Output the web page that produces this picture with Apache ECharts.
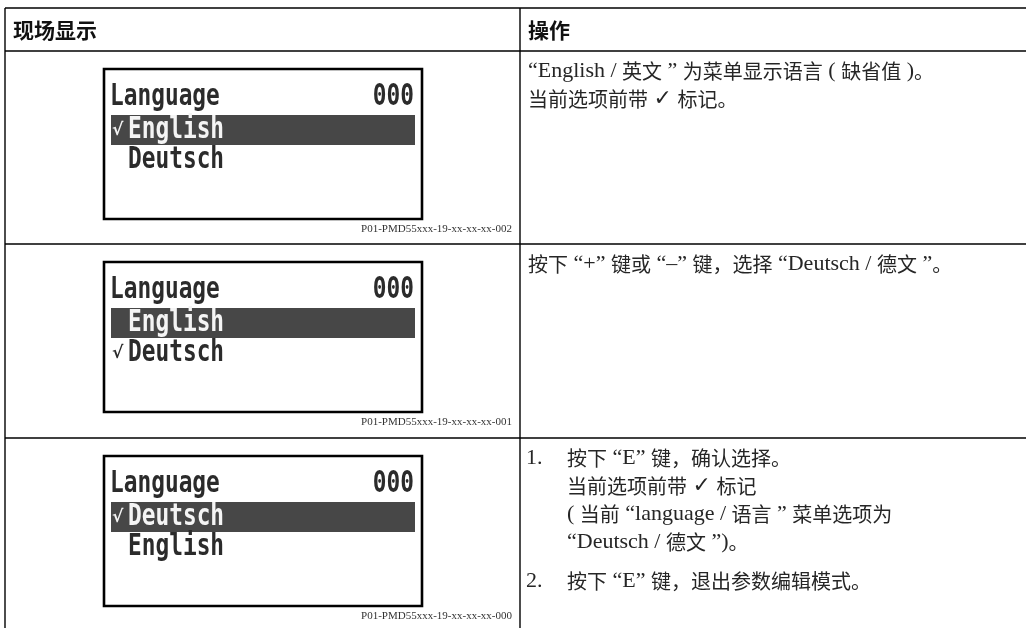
<!DOCTYPE html>
<html><head><meta charset="utf-8">
<script src="https://cdn.jsdelivr.net/npm/echarts@6/dist/echarts.min.js"></script>
<style>html,body{margin:0;background:#fff}#c{width:1026px;height:628px}</style></head>
<body><div id="c"></div>
<script>
// ---- content ----
const headers = ['现场显示', '操作'];
const lcdTitle = 'Language';
const lcdCode = '000';
const lcdRows = [
  [{label: 'English', check: true, selected: true}, {label: 'Deutsch', check: false, selected: false}],
  [{label: 'English', check: false, selected: true}, {label: 'Deutsch', check: true, selected: false}],
  [{label: 'Deutsch', check: true, selected: true}, {label: 'English', check: false, selected: false}]
];
const figureIds = ['P01-PMD55xxx-19-xx-xx-xx-002', 'P01-PMD55xxx-19-xx-xx-xx-001', 'P01-PMD55xxx-19-xx-xx-xx-000'];
const actionItems = [
  [{num: '', lines: ['“English / 英文 ” 为菜单显示语言 ( 缺省值 )。', '当前选项前带 ✓ 标记。']}],
  [{num: '', lines: ['按下 “+” 键或 “–” 键，选择 “Deutsch / 德文 ”。']}],
  [{num: '1.', lines: ['按下 “E” 键，确认选择。', '当前选项前带 ✓ 标记', '( 当前 “language / 语言 ” 菜单选项为', '“Deutsch / 德文 ”)。']},
   {num: '2.', lines: ['按下 “E” 键，退出参数编辑模式。']}]
];

// ---- layout ----
const W = 1026, H = 628;
const tableTop = 8, headerBottom = 51;
const rowTops = [51, 244, 438];
const leftX = 5, colX = 520;
const sans = "'Noto Sans CJK SC', sans-serif";
const lcdFont = "bold 30px 'DejaVu Sans Mono', monospace";
const textColor = '#262626';
const lcdInk = '#2b2b2b', lcdBar = '#474747';

const g = [];
function line(x1, y1, x2, y2, w) {
  g.push({type: 'line', shape: {x1, y1, x2, y2}, style: {stroke: '#000', lineWidth: w || 1.4}});
}
function text(x, y, t, font, opts) {
  g.push(Object.assign({type: 'text', x, y, style: Object.assign({text: t, font, fill: textColor, align: 'left', verticalAlign: 'middle'}, opts && opts.style || {})}, opts && opts.el || {}));
}
const cjkRe = /[\u3000-\u303f\u4e00-\u9fff\uff00-\uffef]/;
const richStyles = {
  c: {fontSize: 20, fontFamily: "'Noto Sans CJK SC'", fill: textColor, lineHeight: 26, verticalAlign: 'middle'},
  l: {fontSize: 22, fontFamily: "'Liberation Serif', 'DejaVu Sans'", fill: textColor, lineHeight: 26, verticalAlign: 'middle'}
};
function richLine(x, y, s) {
  let out = '', cur = '', type = null;
  for (const ch of s) {
    const t = cjkRe.test(ch) ? 'c' : 'l';
    if (t !== type && cur) { out += '{' + type + '|' + cur + '}'; cur = ''; }
    type = t; cur += ch;
  }
  if (cur) out += '{' + type + '|' + cur + '}';
  g.push({type: 'text', x, y, style: {text: out, rich: richStyles, align: 'left', verticalAlign: 'middle'}});
}

// grid lines
[tableTop, headerBottom, rowTops[1], rowTops[2]].forEach(y => line(leftX, y, W + 2, y));
line(leftX, tableTop, leftX, H + 2);
line(colX, tableTop, colX, H + 2);

// headers
text(13, 30, headers[0], 'bold 21px ' + sans, {style: {fill: '#111'}});
text(528, 30, headers[1], 'bold 21px ' + sans, {style: {fill: '#111'}});

// LCD boxes
const boxX = 104, boxW = 318, boxH = 150, sx = 0.76;
rowTops.forEach((rt, i) => {
  const by = rt + 18;
  g.push({type: 'rect', shape: {x: boxX, y: by, width: boxW, height: boxH}, style: {fill: '#fff', stroke: '#000', lineWidth: 2.6}});
  text(boxX + 6, by + 28, lcdTitle, lcdFont, {style: {fill: lcdInk}, el: {scaleX: sx}});
  text(boxX + 310, by + 28, lcdCode, lcdFont, {style: {fill: lcdInk, align: 'right'}, el: {scaleX: sx}});
  lcdRows[i].forEach((r, k) => {
    const cy = by + 61 + k * 30;
    if (r.selected) {
      g.push({type: 'rect', shape: {x: boxX + 7, y: by + 46, width: 304, height: 30}, style: {fill: lcdBar}});
    }
    const ink = r.selected ? '#f4f4f4' : lcdInk;
    if (r.check) text(boxX + 8, cy + 1, '√', "bold 17px 'DejaVu Sans', sans-serif", {style: {fill: ink}});
    text(boxX + 24, cy, r.label, lcdFont, {style: {fill: ink}, el: {scaleX: sx}});
  });
  text(512, rt + 178, figureIds[i], "11px 'Liberation Serif', serif", {style: {fill: '#333', align: 'right'}});
});

// action text
rowTops.forEach((rt, i) => {
  let y = rt + 20;
  actionItems[i].forEach((item, j) => {
    if (j > 0) y += 11;
    const tx = item.num ? 567 : 528;
    if (item.num) richLine(526, y, item.num);
    item.lines.forEach(l => { richLine(tx, y, l); y += 28; });
  });
});

const chart = echarts.init(document.getElementById('c'), null, {renderer: 'canvas'});
chart.setOption({animation: false, backgroundColor: '#fff', graphic: {elements: g}});
</script></body></html>
